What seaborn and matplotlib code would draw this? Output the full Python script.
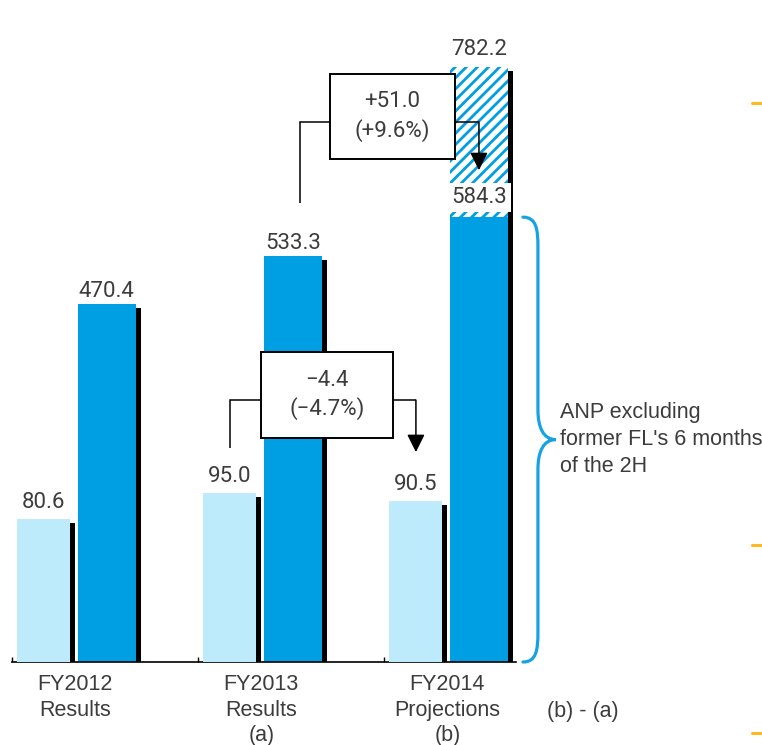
import numpy as np
import pandas as pd
import matplotlib
matplotlib.use("Agg")
import matplotlib.pyplot as plt
import matplotlib.patheffects as pe
from matplotlib.lines import Line2D
from matplotlib.path import Path
from matplotlib.patches import PathPatch, Rectangle
import seaborn as sns

# ---- data ----
periods = ["FY2012\nResults", "FY2013\nResults\n(a)", "FY2014\nProjections\n(b)"]
small_values = [80.6, 95.0, 90.5]          # light bars (secondary scale)
anp_values = [470.4, 533.3, 584.3]         # ANP excluding former FL's 2H
anp_with_fl = [np.nan, np.nan, 782.2]      # FY2014 projection incl. former FL's 2H
small_change = "−4.4\n(−4.7%)"
anp_change = "+51.0\n(+9.6%)"
brace_note = "ANP excluding\nformer FL's 6 months\nof the 2H"
diff_label = "(b) - (a)"

# ---- style ----
LIGHT = "#BDEBFC"
DARK = "#009FE3"
BRACE = "#17A2E6"
TEXT = "#3C3C3C"
ORANGE = "#FBBA22"
NUM_FONT = ["Roboto", "DejaVu Sans"]

sns.set_theme(style="white")
plt.rcParams["font.family"] = ["Liberation Sans", "DejaVu Sans"]
plt.rcParams["hatch.linewidth"] = 2.0

W = 0.677
hue_order = ["small", "anp"]

fig = plt.figure(figsize=(7.62, 7.45), dpi=100)
ax = fig.add_axes([12 / 762, 83 / 745, 504 / 762, 642 / 745])
ax2 = ax.twinx()

shadow = [pe.SimplePatchShadow(offset=(3.6, -2.9), shadow_rgbFace="black",
                               alpha=1.0, hatch=None),
          pe.Normal()]


def bars(target, values, series, gap, palette, **kw):
    df = pd.DataFrame({"period": periods, "value": values, "series": series})
    n0 = len(target.patches)
    sns.barplot(data=df, x="period", y="value", hue="series", hue_order=hue_order,
                order=periods, palette=palette, width=W, gap=gap, dodge=True,
                saturation=1, errorbar=None, legend=False, ax=target, **kw)
    new = list(target.patches[n0:])
    for p in new:
        p.set_path_effects(shadow)
    return new


fl_bars = bars(ax, anp_with_fl, "anp", 0.08, {"small": LIGHT, "anp": "white"},
               edgecolor=DARK, linewidth=0, hatch="///")
anp_bars = bars(ax, anp_values, "anp", 0.08, {"small": LIGHT, "anp": DARK}, linewidth=0)
small_bars = bars(ax2, small_values, "small", 0.16, {"small": LIGHT, "anp": DARK}, linewidth=0)

ax.set_ylim(0, 843.3)
ax2.set_ylim(0, 361.1)
ax.set_xlim(-W / 2, -W / 2 + 504 / 186.2)
for a in (ax, ax2):
    a.set_xlabel("")
    a.set_ylabel("")
    a.set_yticks([])
    for s in ("left", "right", "top"):
        a.spines[s].set_visible(False)
ax2.spines["bottom"].set_visible(False)
ax.spines["bottom"].set_color("black")
ax.spines["bottom"].set_linewidth(1.2)

ax.set_xticks([i - W / 2 for i in range(len(periods))], labels=[""] * len(periods))
ax.set_xticks(range(len(periods)), labels=periods, minor=True)
ax.tick_params(axis="x", which="major", direction="in", length=3.5, width=1,
               color="black", bottom=True)
ax.tick_params(axis="x", which="minor", length=0, pad=8.5, labelsize=15.5,
               labelcolor=TEXT)
for lbl in ax.get_xticklabels(minor=True):
    lbl.set_linespacing(1.3)


def center(p):
    return p.get_x() + p.get_width() / 2


def xpx(px):
    x0, x1 = ax.get_xlim()
    return px * (x1 - x0) / ax.bbox.width


def ypx(target, px):
    y0, y1 = target.get_ylim()
    return px * (y1 - y0) / target.bbox.height


# ---- value labels ----
def value_label(target, p, value, dy, **kw):
    target.annotate(f"{value:.1f}", (center(p), value), xytext=(0, dy),
                    textcoords="offset points", ha="center", va="baseline",
                    fontsize=16, family=NUM_FONT, color=TEXT, zorder=6, **kw)


for p, v in zip(anp_bars, anp_values):
    if p is anp_bars[-1]:
        value_label(ax, p, v, 10, bbox=dict(boxstyle="square,pad=0.18",
                                            fc="white", ec="none"))
    else:
        value_label(ax, p, v, 5)
for p, v in zip(small_bars, small_values):
    value_label(ax2, p, v, 8)
fl_total = [v for v in anp_with_fl if not np.isnan(v)]
for p, v in zip(fl_bars, fl_total):
    value_label(ax, p, v, 8)


# ---- change callouts ----
def callout(target, xa, xb, y_start, level, tip, text, box_w, box_h, box_dx, box_dy):
    line_kw = dict(color="black", lw=1.1, clip_on=False, zorder=8,
                   solid_capstyle="butt", solid_joinstyle="miter")
    cx = (xa + xb) / 2 + xpx(box_dx)
    cy = level + ypx(target, box_dy)
    hw, hh = xpx(box_w / 2), ypx(target, box_h / 2)
    target.plot([xa, xa, cx - hw], [y_start, level, level], **line_kw)
    target.plot([cx + hw, xb], [level, level], **line_kw)
    target.annotate("", xy=(xb, tip), xytext=(xb, level), zorder=8,
                    annotation_clip=False,
                    arrowprops=dict(arrowstyle="-|>,head_length=0.6,head_width=0.3",
                                    mutation_scale=18, lw=1.1, color="black",
                                    shrinkA=0, shrinkB=0))
    target.add_patch(Rectangle((cx - hw, cy - hh), 2 * hw, 2 * hh, fc="white",
                               ec="black", lw=1.4, clip_on=False, zorder=9))
    target.text(cx, cy, text, ha="center", va="center", fontsize=16,
                family=NUM_FONT, color=TEXT, linespacing=1.35, zorder=10)


callout(ax2, center(small_bars[1]), center(small_bars[2]),
        small_values[1] + ypx(ax2, 45), small_values[1] + ypx(ax2, 93),
        small_values[2] + ypx(ax2, 49), small_change, 132, 86, 4, 5)
callout(ax, center(anp_bars[1]) + xpx(7), center(anp_bars[2]),
        anp_values[1] + ypx(ax, 53), anp_values[1] + ypx(ax, 134),
        anp_values[2] + ypx(ax, 47), anp_change, 125, 85, 3, 5.5)

# ---- brace beside the FY2014 ANP bar ----
edge = anp_bars[2].get_x() + anp_bars[2].get_width()
xa, xb, xc = edge + xpx(15), edge + xpx(30), edge + xpx(48)
top, bot = anp_values[2], 0.0
mid = (top + bot) / 2
r = ypx(ax, 30)
verts = [
    (xa, top), (xa + 0.9 * (xb - xa), top), (xb, top - 0.4 * r), (xb, top - r),
    (xb, mid + r),
    (xb, mid + 0.4 * r), (xb + 0.3 * (xc - xb), mid), (xc, mid),
    (xb + 0.3 * (xc - xb), mid), (xb, mid - 0.4 * r), (xb, mid - r),
    (xb, bot + r),
    (xb, bot + 0.4 * r), (xa + 0.9 * (xb - xa), bot), (xa, bot),
]
codes = ([Path.MOVETO] + [Path.CURVE4] * 3 + [Path.LINETO] + [Path.CURVE4] * 6
         + [Path.LINETO] + [Path.CURVE4] * 3)
ax.add_patch(PathPatch(Path(verts, codes), fc="none", ec=BRACE, lw=2.3,
                       clip_on=False, capstyle="round", zorder=5))
ax.annotate(brace_note, (xc, mid), xytext=(3, 0), textcoords="offset points",
            ha="left", va="center", fontsize=15.5, color=TEXT, linespacing=1.35,
            annotation_clip=False)

fig.text(547 / 762, 1 - 711 / 745, diff_label, ha="left", va="center",
         fontsize=15.5, color=TEXT)

# ---- slide edge markers ----
for yy in (103, 545, 733):
    fig.add_artist(Line2D([752 / 762, 1.0], [1 - yy / 745] * 2,
                          transform=fig.transFigure, color=ORANGE, lw=2.2))

fig.savefig("out.png", dpi=100)
